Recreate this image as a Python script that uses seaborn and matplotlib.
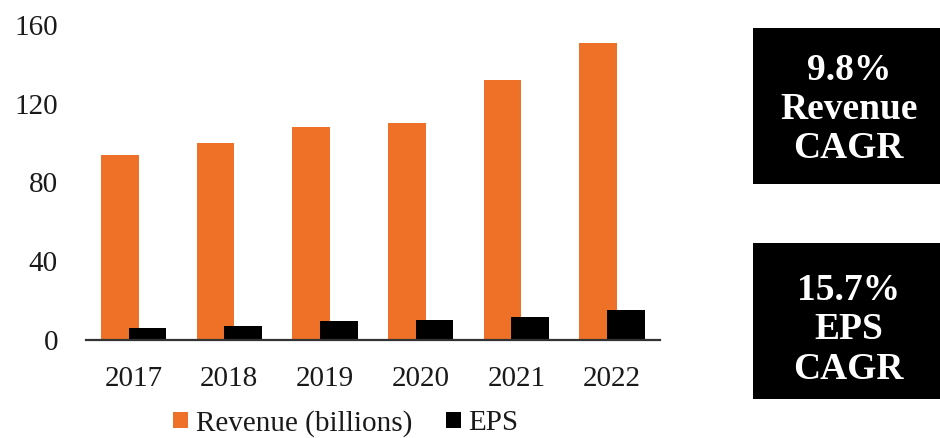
import numpy as np
import pandas as pd
import matplotlib
matplotlib.use("Agg")
import matplotlib.pyplot as plt
import seaborn as sns
from matplotlib.patches import Patch, Rectangle

# Annual figures
years = ["2017", "2018", "2019", "2020", "2021", "2022"]
revenue = [94.0, 100.0, 108.0, 110.0, 132.0, 151.0]
eps = [6.2, 7.0, 9.5, 10.2, 11.8, 15.2]
y_ticks = [0, 40, 80, 120, 160]
series_names = ["Revenue (billions)", "EPS"]

# Growth callouts shown at the right
callout_lines = [["9.8%", "Revenue", "CAGR"], ["15.7%", "EPS", "CAGR"]]

ORANGE = "#EE7127"
BLACK = "#000000"
TEXT = "#1a1a1a"

sns.set_theme(style="white")
plt.rcParams["font.family"] = ["Liberation Serif", "DejaVu Serif"]

fig = plt.figure(figsize=(9.4, 4.38), dpi=100)
ax = fig.add_axes([0.0912, 0.2237, 0.6108, 0.7194])

pos = np.arange(len(years))
shift = 0.145
bar_w = 0.394
df = pd.DataFrame({"pos": pos, "revenue": revenue, "eps": eps})

sns.barplot(x=df["pos"] - shift, y=df["revenue"], native_scale=True,
            width=bar_w, color=ORANGE, saturation=1, errorbar=None,
            linewidth=0, ax=ax)
sns.barplot(x=df["pos"] + shift, y=df["eps"], native_scale=True,
            width=bar_w, color=BLACK, saturation=1, errorbar=None,
            linewidth=0, ax=ax)

ax.set_xlim(-0.5, len(years) - 0.5)
ax.set_ylim(0, 160)
ax.set_xticks(pos)
ax.set_xticklabels(years)
ax.set_yticks(y_ticks)
ax.set_xlabel("")
ax.set_ylabel("")
ax.tick_params(axis="x", length=0, pad=19, labelsize=21, labelcolor=TEXT)
ax.tick_params(axis="y", length=0, pad=20, labelsize=21, labelcolor=TEXT)
for side in ["left", "right", "top"]:
    ax.spines[side].set_visible(False)
ax.spines["bottom"].set_color("#333333")
ax.spines["bottom"].set_linewidth(1.6)
ax.spines["bottom"].set_zorder(5)
ax.grid(False)

handles = [Patch(facecolor=ORANGE, edgecolor="none"),
           Patch(facecolor=BLACK, edgecolor="none")]
fig.legend(handles, series_names, loc="center",
           bbox_to_anchor=(0.368, 0.034), ncol=2, frameon=False,
           fontsize=21, handlelength=0.5, handleheight=0.5,
           handletextpad=0.27, columnspacing=1.17, labelcolor=TEXT)

# Callout boxes
box_specs = [(0.5792, 0.3562, 0.749), (0.0890, 0.3569, 0.2466)]
for (y0, h, ty), lines in zip(box_specs, callout_lines):
    fig.patches.append(Rectangle((0.8007, y0), 0.21, h, transform=fig.transFigure,
                                 facecolor=BLACK, edgecolor="none"))
    fig.text(0.903, ty, "\n".join(lines), ha="center", va="center",
             color="white", fontsize=27, fontweight="bold", linespacing=1.15)

fig.savefig("out.png", dpi=100)
